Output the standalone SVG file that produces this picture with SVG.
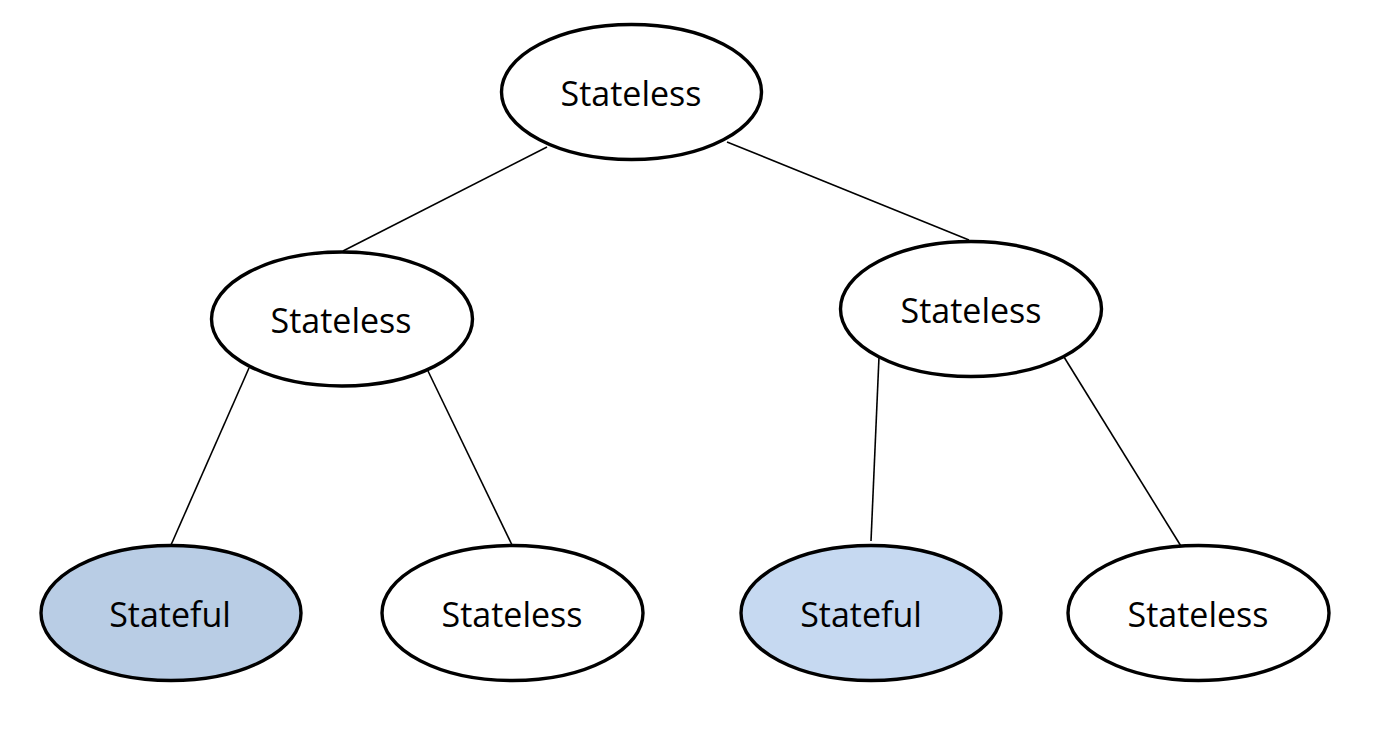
<svg xmlns="http://www.w3.org/2000/svg" width="1374" height="742" viewBox="0 0 1374 742">
<style>
.n ellipse{stroke:#000;stroke-width:3.4;fill:#fff}
.n.sf1 ellipse{fill:#B9CDE5}
.n.sf2 ellipse{fill:#C6D9F1}
.n text{font-family:"Open Sans","Noto Sans",sans-serif;font-size:34px;fill:#000;text-anchor:middle}
#edges line{stroke:#000;stroke-width:1.6}
</style>
<rect width="1374" height="742" fill="#fff"/>
<g id="edges">
<line x1="547" y1="147" x2="343" y2="251"/>
<line x1="727" y1="142" x2="969" y2="240"/>
<line x1="249" y1="368" x2="171" y2="545"/>
<line x1="428" y1="371" x2="512" y2="545"/>
<line x1="879" y1="357" x2="871" y2="541"/>
<line x1="1064" y1="357" x2="1184" y2="551"/>
</g>
<g id="root" class="n"><ellipse cx="631.5" cy="92" rx="130" ry="67.5"/><text x="631" y="106">Stateless</text></g>
<g id="midLeft" class="n"><ellipse cx="342" cy="319" rx="130.5" ry="67"/><text x="341" y="333">Stateless</text></g>
<g id="midRight" class="n"><ellipse cx="971" cy="309" rx="130.5" ry="67.5"/><text x="971" y="323">Stateless</text></g>
<g id="leafStateful1" class="n sf1"><ellipse cx="171" cy="613" rx="130" ry="67.5"/><text x="170" y="627">Stateful</text></g>
<g id="leafStateless1" class="n"><ellipse cx="512.5" cy="613" rx="130.5" ry="67.5"/><text x="512" y="627">Stateless</text></g>
<g id="leafStateful2" class="n sf2"><ellipse cx="871" cy="613" rx="130" ry="67.5"/><text x="861" y="627">Stateful</text></g>
<g id="leafStateless2" class="n"><ellipse cx="1198.5" cy="613" rx="130.5" ry="67.5"/><text x="1198" y="627">Stateless</text></g>
</svg>
